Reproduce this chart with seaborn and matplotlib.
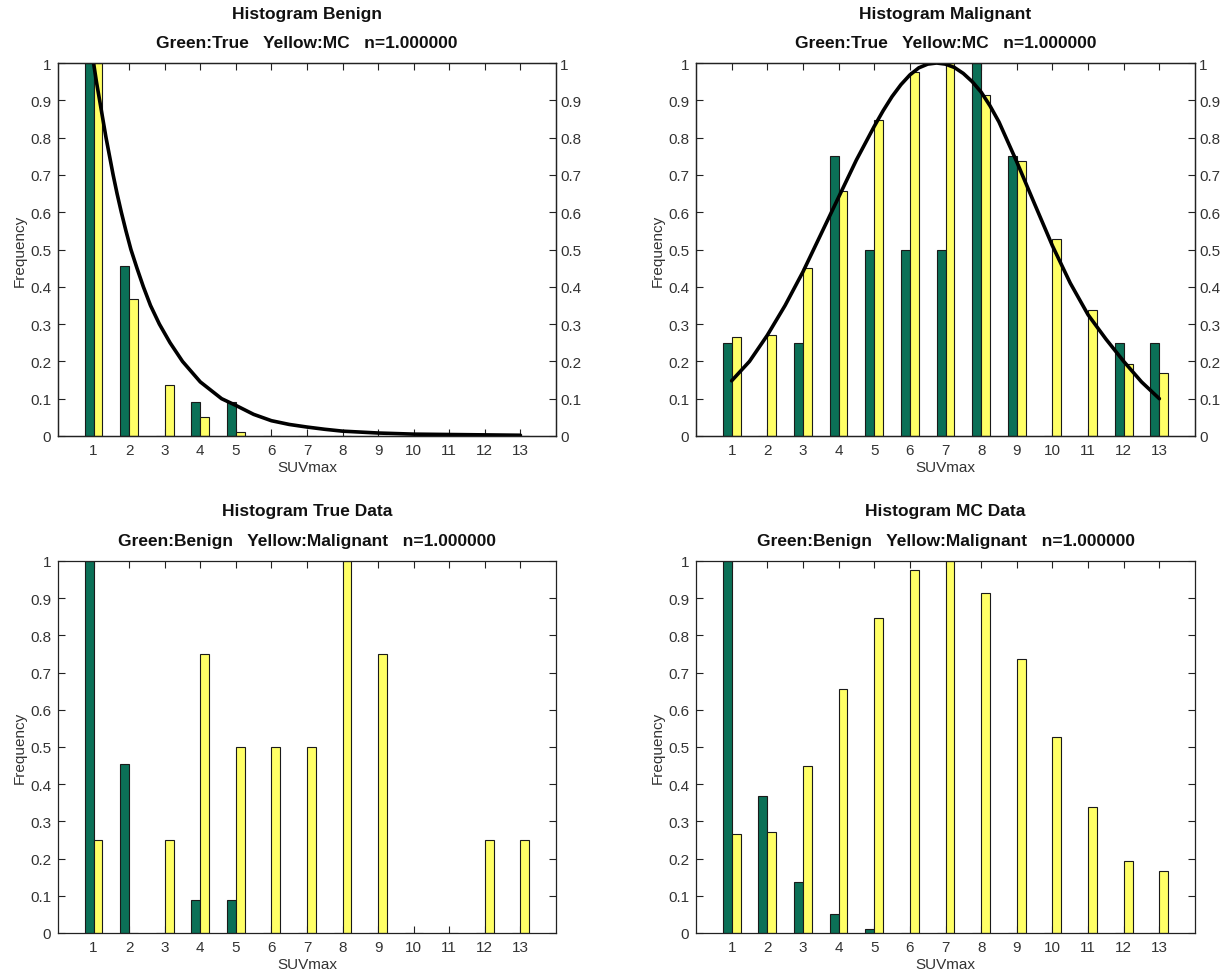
import matplotlib
matplotlib.use("Agg")
import matplotlib.pyplot as plt
import seaborn as sns
import pandas as pd
import numpy as np

# ---------------- data ----------------
suv = list(range(1, 14))
benign_true = [1.0, 0.455, 0.0, 0.09, 0.09, 0, 0, 0, 0, 0, 0, 0, 0]
benign_mc = [1.0, 0.368, 0.138, 0.051, 0.012, 0, 0, 0, 0, 0, 0, 0, 0]
malig_true = [0.25, 0.0, 0.25, 0.75, 0.5, 0.5, 0.5, 1.0, 0.75, 0.0, 0.0, 0.25, 0.25]
malig_mc = [0.265, 0.272, 0.45, 0.656, 0.846, 0.977, 1.0, 0.913, 0.736, 0.528, 0.339, 0.193, 0.168]

benign_fit_x = [1.0, 1.08, 1.17, 1.26, 1.35, 1.45, 1.55, 1.66, 1.78, 1.91, 2.05, 2.22, 2.4,
                2.6, 2.85, 3.15, 3.5, 4.0, 4.6, 5.0, 5.5, 6.0, 6.5, 7.0, 7.5, 8.0, 9.0,
                10.0, 11.0, 12.0, 13.0]
benign_fit_y = [1.0, 0.95, 0.9, 0.85, 0.8, 0.75, 0.7, 0.65, 0.6, 0.55, 0.5, 0.45, 0.4,
                0.35, 0.3, 0.25, 0.2, 0.145, 0.1, 0.082, 0.058, 0.041, 0.031, 0.024, 0.018,
                0.013, 0.008, 0.005, 0.004, 0.003, 0.002]
malig_fit_x = [1.0, 1.5, 2.0, 2.5, 3.0, 3.5, 4.0, 4.5, 5.0, 5.25, 5.5, 5.75, 6.0, 6.25, 6.5,
               6.75, 7.0, 7.25, 7.5, 7.75, 8.0, 8.25, 8.5, 9.0, 9.5, 10.0, 10.5, 11.0, 11.5,
               12.0, 12.5, 13.0]
malig_fit_y = [0.148, 0.2, 0.27, 0.35, 0.44, 0.54, 0.64, 0.74, 0.83, 0.872, 0.91, 0.942,
               0.968, 0.987, 0.997, 1.0, 0.997, 0.988, 0.972, 0.95, 0.922, 0.885, 0.842,
               0.735, 0.622, 0.51, 0.41, 0.325, 0.26, 0.2, 0.145, 0.1]

titles = [
    ("Histogram Benign", "Green:True   Yellow:MC   n=1.000000"),
    ("Histogram Malignant", "Green:True   Yellow:MC   n=1.000000"),
    ("Histogram True Data", "Green:Benign   Yellow:Malignant   n=1.000000"),
    ("Histogram MC Data", "Green:Benign   Yellow:Malignant   n=1.000000"),
]
yticks = [0, 0.1, 0.2, 0.3, 0.4, 0.5, 0.6, 0.7, 0.8, 0.9, 1]
ytick_labels = ["0", "0.1", "0.2", "0.3", "0.4", "0.5", "0.6", "0.7", "0.8", "0.9", "1"]

GREEN = "#0b7057"
YELLOW = "#ffff66"

sns.set_theme(style="white")
plt.rcParams["font.family"] = ["Liberation Sans", "DejaVu Sans"]

fig = plt.figure(figsize=(12.28, 9.78), dpi=100)
W, H = 1228, 978
boxes = [(58, 556, 64, 437), (696, 1195, 64, 437), (58, 556, 562, 934), (696, 1195, 562, 934)]

panels = [
    (benign_true, benign_mc, (benign_fit_x, benign_fit_y)),
    (malig_true, malig_mc, (malig_fit_x, malig_fit_y)),
    (benign_true, malig_true, None),
    (benign_mc, malig_mc, None),
]

for i, ((g, y, fit), (l, r, t, b), (t1, t2)) in enumerate(zip(panels, boxes, titles)):
    ax = fig.add_axes([l / W, 1 - b / H, (r - l) / W, (b - t) / H])
    df = pd.DataFrame({
        "x": suv + suv,
        "v": g + y,
        "s": ["g"] * len(suv) + ["y"] * len(suv),
    })
    sns.barplot(data=df, x="x", y="v", hue="s", native_scale=True, width=0.5,
                palette={"g": GREEN, "y": YELLOW}, hue_order=["g", "y"],
                edgecolor="#1a1a1a", linewidth=0.8, saturation=1, legend=False, ax=ax)
    ax.set_xlim(0, 14)
    ax.set_ylim(0, 1)
    ax.set_xticks(suv)
    ax.set_xticklabels([str(v) for v in suv])
    ax.set_yticks(yticks)
    ax.set_yticklabels(ytick_labels)
    ax.set_xlabel("SUVmax", fontsize=11, color="#333333", labelpad=2)
    ax.set_ylabel("Frequency", fontsize=11, color="#333333", labelpad=2)
    ax.tick_params(direction="in", length=5, width=0.8, labelsize=11, labelcolor="#333333",
                   top=True, right=True, bottom=True, left=True, pad=5, color="#222222")
    for sp in ax.spines.values():
        sp.set_visible(True)
        sp.set_color("#222222")
        sp.set_linewidth(0.9)
    if fit is not None:
        ax2 = ax.twinx()
        ax2.set_ylim(0, 1)
        ax2.set_yticks(yticks)
        ax2.set_yticklabels(ytick_labels)
        ax2.tick_params(direction="in", length=5, width=0.8, labelsize=11,
                        labelcolor="#333333", pad=3, color="#222222")
        ax2.grid(False)
        sns.lineplot(x=fit[0], y=fit[1], color="black", linewidth=2.6, ax=ax2, sort=False)
        ax2.set_xlim(0, 14)
        for sp in ax2.spines.values():
            sp.set_visible(True)
            sp.set_color("#222222")
            sp.set_linewidth(0.9)
    ax.text(0.5, 1 + 50 / (b - t), t1, transform=ax.transAxes, ha="center", va="center",
            fontsize=12.5, fontweight="bold", color="#111111")
    ax.text(0.5, 1 + 20 / (b - t), t2, transform=ax.transAxes, ha="center", va="center",
            fontsize=12.5, fontweight="bold", color="#111111")

fig.savefig("out.png", dpi=100, facecolor="white")
